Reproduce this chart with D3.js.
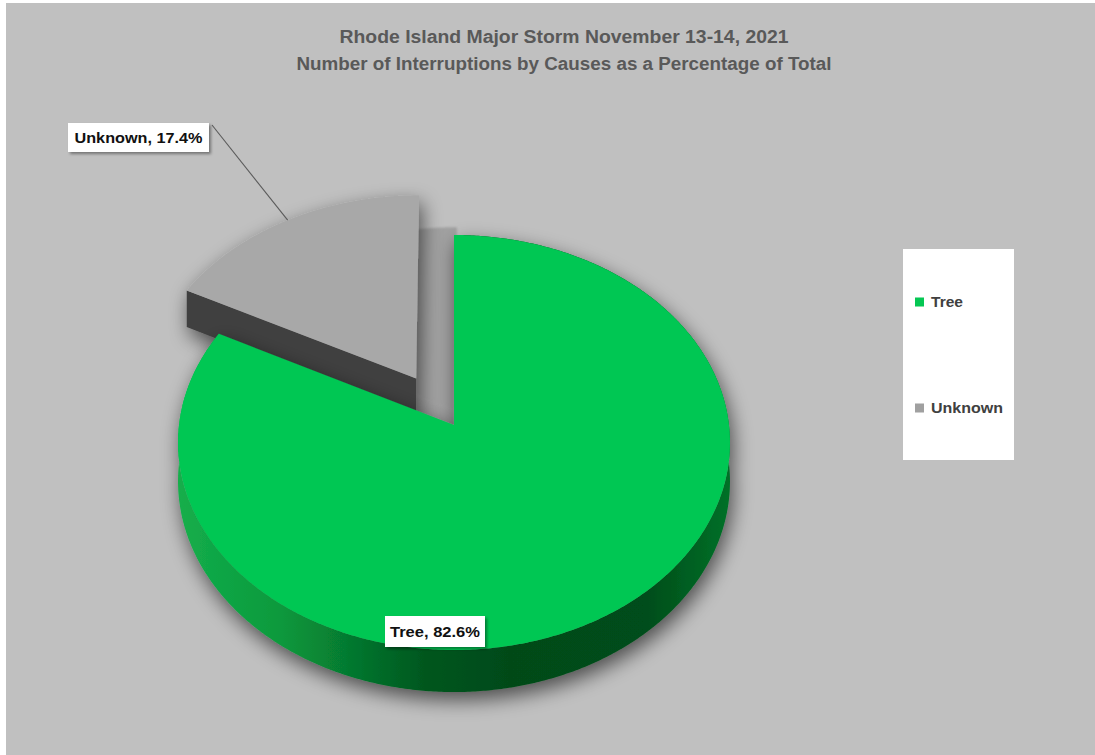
<!DOCTYPE html>
<html>
<head>
<meta charset="utf-8">
<script src="https://cdn.jsdelivr.net/npm/d3@7"></script>
<style>
  html, body { margin: 0; padding: 0; background: #ffffff; }
  svg { display: block; }
</style>
</head>
<body>
<svg id="chart" width="1095" height="755"></svg>
<script>
// ---------------- data ----------------
const categories = ["Tree", "Unknown"];
const values = [82.6, 17.4];
const sliceColors = ["#05c753", "#a8a8a8"];
const titleLines = [
  "Rhode Island Major Storm November 13-14, 2021",
  "Number of Interruptions by Causes as a Percentage of Total"
];
const labelTexts = ["Tree, 82.6%", "Unknown, 17.4%"];
const explode = [0, 0.27];

// ---------------- layout ----------------
const W = 1095, H = 755;
const CX = 454, VY = 425, TOPY = 235, BOTY = 650, S = 275, DEPTH = 38.5;
const persp = (2 * VY - BOTY - TOPY) / (TOPY - BOTY);
const A = TOPY * (persp + 1) - VY;

function proj(u, v, z) {
  const den = 1 + persp * v;
  return [CX + S * u / den, (A * v + VY + z * DEPTH) / den];
}

const svg = d3.select("#chart");
const defs = svg.append("defs");

// soft shadow
const f1 = defs.append("filter").attr("id", "soft").attr("x", "-20%").attr("y", "-20%").attr("width", "140%").attr("height", "140%");
f1.append("feGaussianBlur").attr("in", "SourceAlpha").attr("stdDeviation", 10).attr("result", "b");
f1.append("feOffset").attr("in", "b").attr("dx", 3).attr("dy", 8).attr("result", "o");
f1.append("feComponentTransfer").attr("in", "o").attr("result", "o2")
  .append("feFuncA").attr("type", "linear").attr("slope", 0.6);
const m1 = f1.append("feMerge");
m1.append("feMergeNode").attr("in", "o2");
m1.append("feMergeNode").attr("in", "SourceGraphic");

const f2 = defs.append("filter").attr("id", "boxShadow").attr("x", "-20%").attr("y", "-40%").attr("width", "150%").attr("height", "190%");
f2.append("feGaussianBlur").attr("in", "SourceAlpha").attr("stdDeviation", 1.6).attr("result", "b");
f2.append("feOffset").attr("in", "b").attr("dx", 2).attr("dy", 2).attr("result", "o");
f2.append("feComponentTransfer").attr("in", "o").attr("result", "o2")
  .append("feFuncA").attr("type", "linear").attr("slope", 0.4);
const m2 = f2.append("feMerge");
m2.append("feMergeNode").attr("in", "o2");
m2.append("feMergeNode").attr("in", "SourceGraphic");

const f3 = defs.append("filter").attr("id", "gapBlur");
f3.append("feGaussianBlur").attr("stdDeviation", 1.2);

// side gradient
const grad = defs.append("linearGradient").attr("id", "sideGrad")
  .attr("gradientUnits", "userSpaceOnUse")
  .attr("x1", CX - S).attr("x2", CX + S).attr("y1", 0).attr("y2", 0);
[[0, "#14ae4b"], [0.18, "#0a9a3d"], [0.33, "#05742d"], [0.45, "#02561e"],
 [0.6, "#004a19"], [0.85, "#004d1a"], [1, "#007028"]]
  .forEach(([o, c]) => grad.append("stop").attr("offset", o).attr("stop-color", c));

// background
svg.append("rect").attr("x", 0).attr("y", 0).attr("width", W).attr("height", H).attr("fill", "#ffffff");
svg.append("rect").attr("x", 6).attr("y", 3).attr("width", W - 6).attr("height", H - 3)
  .attr("fill", "#c0c0c0");

// title
const title = svg.append("g");
titleLines.forEach((t, i) => {
  const el = title.append("text")
    .attr("x", 564).attr("y", 43 + i * 27)
    .attr("text-anchor", "middle")
    .attr("font-family", "Liberation Sans, Arial, sans-serif")
    .attr("font-weight", "bold").attr("font-size", 18)
    .attr("fill", "#595959").text(t);
  el.attr("textLength", i === 0 ? 449 : 535).attr("lengthAdjust", "spacingAndGlyphs");
});

// pie angles
const pie = d3.pie().sort(null).value(d => d)(values);

function rimPoints(a0, a1, ou, ov, z) {
  const n = Math.max(2, Math.ceil(Math.abs(a1 - a0) / (Math.PI / 360)));
  const pts = [];
  for (let i = 0; i <= n; i++) {
    const t = a0 + (a1 - a0) * i / n;
    pts.push(proj(ou + Math.sin(t), ov + Math.cos(t), z));
  }
  return pts;
}
const line = d3.line();

const sTree = pie[0], sUnk = pie[1];
const midU = (sUnk.startAngle + sUnk.endAngle) / 2;
const ou = explode[1] * Math.sin(midU), ov = explode[1] * Math.cos(midU);

// Unknown slice shapes
const uCenterTop = proj(ou, ov, 0), uCenterBot = proj(ou, ov, 1);
const uRimTop = rimPoints(sUnk.startAngle, sUnk.endAngle, ou, ov, 0);
const uA = uRimTop[0];
const uABot = proj(ou + Math.sin(sUnk.startAngle), ov + Math.cos(sUnk.startAngle), 1);
const uWall = [uCenterTop, uA, uABot, uCenterBot];
const uTop = [uCenterTop].concat(uRimTop);

// gap shading: Unknown slice shape shifted toward Tree vertex
const treeV = proj(0, 0, 0);
const shiftX = treeV[0] - uCenterTop[0];
const shiftY = DEPTH / (1 + persp * (ov + 1)) - 3;
svg.append("g").attr("transform", `translate(${shiftX},${shiftY})`).attr("filter", "url(#gapBlur)")
  .selectAll("path").data([uWall, uTop]).join("path")
  .attr("d", d => line(d) + "Z").attr("fill", "#a1a1a1");

// Unknown slice
const gU = svg.append("g").attr("filter", "url(#soft)");
gU.append("path").attr("d", line(uWall) + "Z").attr("fill", "#404040");
gU.append("path").attr("d", line(uTop) + "Z").attr("fill", sliceColors[1]);

// Tree slice
const gT = svg.append("g").attr("filter", "url(#soft)");
const tTop = rimPoints(sTree.startAngle, sTree.endAngle, 0, 0, 0);
const tBot = rimPoints(sTree.startAngle, sTree.endAngle, 0, 0, 1);
gT.append("path").attr("d", line(tTop.concat(tBot.slice().reverse())) + "Z").attr("fill", "url(#sideGrad)");
gT.append("path").attr("d", line([treeV].concat(tTop)) + "Z").attr("fill", sliceColors[0]);

// data labels
const fontLbl = "Liberation Sans, Arial, sans-serif";
const uMidRim = proj(ou + Math.sin(midU), ov + Math.cos(midU), 0);
const uBox = { x: 68, y: 123, w: 141, h: 29, tw: 128 };
svg.append("line").attr("x1", uBox.x + uBox.w + 3).attr("y1", uBox.y + 2)
  .attr("x2", uMidRim[0]).attr("y2", uMidRim[1])
  .attr("stroke", "#5a5a5a").attr("stroke-width", 1.1);
const tBox = { x: 385, y: 616, w: 100, h: 31, tw: 90 };
[[tBox, labelTexts[0]], [uBox, labelTexts[1]]].forEach(([b, t]) => {
  const g = svg.append("g");
  g.append("rect").attr("x", b.x).attr("y", b.y).attr("width", b.w).attr("height", b.h)
    .attr("fill", "#ffffff").attr("filter", "url(#boxShadow)");
  g.append("text").attr("x", b.x + b.w / 2).attr("y", b.y + b.h / 2 + 5.5)
    .attr("text-anchor", "middle").attr("font-family", fontLbl).attr("font-weight", "bold")
    .attr("font-size", 15.5).attr("fill", "#111111")
    .attr("textLength", b.tw).attr("lengthAdjust", "spacingAndGlyphs").text(t);
});

// legend
const lg = svg.append("g");
lg.append("rect").attr("x", 903).attr("y", 249).attr("width", 111).attr("height", 211).attr("fill", "#ffffff");
const legY = d3.scalePoint().domain(categories).range([302, 408]);
const legW = [32, 72];
categories.forEach((c, i) => {
  lg.append("rect").attr("x", 915).attr("y", legY(c) - 4.5).attr("width", 9).attr("height", 9)
    .attr("fill", i === 0 ? sliceColors[0] : "#a0a0a0");
  lg.append("text").attr("x", 931).attr("y", legY(c) + 5)
    .attr("font-family", fontLbl).attr("font-weight", "bold").attr("font-size", 14.5)
    .attr("fill", "#404040").attr("textLength", legW[i]).attr("lengthAdjust", "spacingAndGlyphs").text(c);
});
</script>
</body>
</html>
